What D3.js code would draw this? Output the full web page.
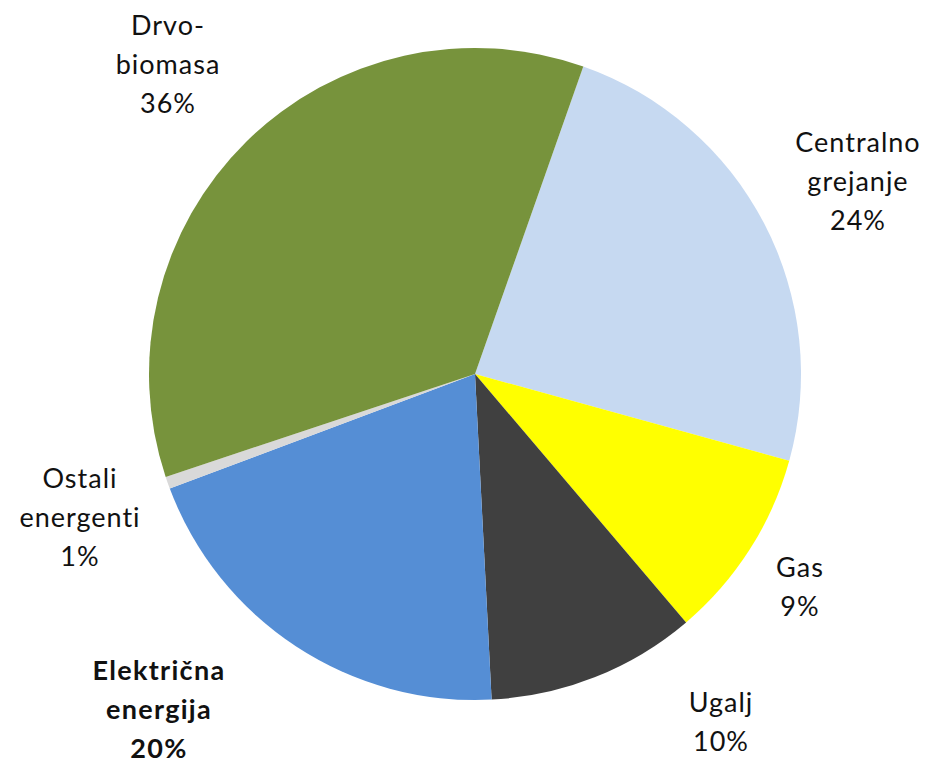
<!DOCTYPE html>
<html>
<head>
<meta charset="utf-8">
<script src="https://cdn.jsdelivr.net/npm/d3@7"></script>
<style>
  html, body { margin: 0; padding: 0; background: #fff; }
  svg { display: block; }
</style>
</head>
<body>
<svg id="chart" width="926" height="765"></svg>
<script>
// Data (clockwise from the first slice)
const categories = [["Centralno", "grejanje"], ["Gas"], ["Ugalj"], ["Električna", "energija"], ["Ostali", "energenti"], ["Drvo-", "biomasa"]];
const values = [23.9, 9.5, 10.4, 20.1, 0.6, 35.5];
const percentLabels = ["24%", "9%", "10%", "20%", "1%", "36%"];
const colors = ["#C6D9F1", "#FFFF00", "#404040", "#558ED5", "#D9D9D9", "#77933C"];
const boldLabel = [false, false, false, true, false, false];
// label anchor positions (centre x, first baseline y)
const labelPos = [[858, 152], [800, 577], [721, 712], [159, 680], [80, 488], [168, 35]];

const svg = d3.select("#chart");
const cx = 475, cy = 374, r = 326;
const start = 19.4 * Math.PI / 180;

const pie = d3.pie().sort(null).startAngle(start).endAngle(start + 2 * Math.PI);
const arc = d3.arc().innerRadius(0).outerRadius(r);

const g = svg.append("g").attr("transform", `translate(${cx},${cy})`);
g.selectAll("path")
  .data(pie(values))
  .join("path")
  .attr("d", arc)
  .attr("fill", (d, i) => colors[i]);

const lineH = 39;
categories.forEach((lines, i) => {
  const all = lines.concat([percentLabels[i]]);
  const t = svg.append("text")
    .attr("x", labelPos[i][0])
    .attr("y", labelPos[i][1])
    .attr("text-anchor", "middle")
    .attr("font-family", "Lato, 'Open Sans', sans-serif")
    .attr("font-size", 27)
    .attr("letter-spacing", boldLabel[i] ? 1.3 : 1)
    .attr("font-weight", boldLabel[i] ? "bold" : "normal")
    .attr("fill", "#111");
  all.forEach((s, k) => {
    t.append("tspan")
      .attr("x", labelPos[i][0])
      .attr("dy", k === 0 ? 0 : lineH)
      .text(s);
  });
});
</script>
</body>
</html>
